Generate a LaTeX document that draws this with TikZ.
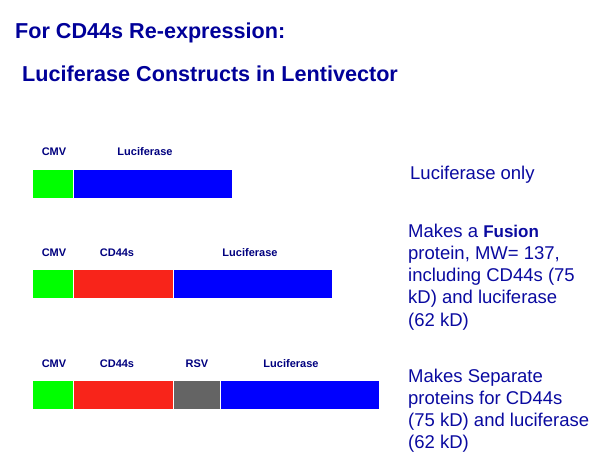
\documentclass[tikz,border=0pt]{standalone}
\usepackage{fontspec}
\setmainfont{Liberation Sans}
\definecolor{titleblue}{HTML}{000099}
\definecolor{textblue}{HTML}{0A0AA0}
\definecolor{lblblue}{HTML}{00007F}
\definecolor{cmvgreen}{HTML}{00FF00}
\definecolor{lucblue}{HTML}{0000FF}
\definecolor{cdred}{HTML}{F8241A}
\definecolor{rsvgray}{HTML}{646464}
\tikzset{
  seg/.style={inner sep=0pt, outer sep=0pt, anchor=north west, minimum height=28pt},
  title/.style={anchor=base west, inner sep=0pt, text=titleblue, font=\fontsize{21.6}{26}\selectfont\bfseries},
  lbl/.style={anchor=base, inner sep=0pt, text=lblblue, font=\fontsize{11}{13}\selectfont\bfseries},
  desc/.style={anchor=north west, inner sep=0pt, align=left, text=textblue, font=\fontsize{18.5}{22.2}\selectfont}
}
\begin{document}
\begin{tikzpicture}[x=1pt,y=-1pt]
\useasboundingbox[fill=white] (0,0) rectangle (600,468);
\node[title] (t1) at (15,39) {For CD44s Re-expression:};
\node[title] (t2) at (22,82) {Luciferase Constructs in Lentivector};
% row 1
\node[seg, fill=cmvgreen, minimum width=40pt] (g1) at (33,170) {};
\node[seg, fill=lucblue, minimum width=158pt] (b1) at (74,170) {};
\node[lbl] (l1a) at (54,156) {CMV};
\node[lbl] (l1b) at (145,156) {Luciferase};
% row 2
\node[seg, fill=cmvgreen, minimum width=40pt] (g2) at (33,270) {};
\node[seg, fill=cdred, minimum width=99pt] (r2) at (74,270) {};
\node[seg, fill=lucblue, minimum width=158pt] (b2) at (174,270) {};
\node[lbl] (l2a) at (54,256) {CMV};
\node[lbl] (l2b) at (117,256) {CD44s};
\node[lbl] (l2c) at (250,256) {Luciferase};
% row 3
\node[seg, fill=cmvgreen, minimum width=40pt] (g3) at (33,381) {};
\node[seg, fill=cdred, minimum width=99pt] (r3) at (74,381) {};
\node[seg, fill=rsvgray, minimum width=46pt] (y3) at (174,381) {};
\node[seg, fill=lucblue, minimum width=158pt] (b3) at (221,381) {};
\node[lbl] (l3a) at (54,367) {CMV};
\node[lbl] (l3b) at (117,367) {CD44s};
\node[lbl] (l3c) at (197,367) {RSV};
\node[lbl] (l3d) at (291,367) {Luciferase};
% descriptions
\node[desc] (d1) at (410,165.6) {Luciferase only};
\node[desc] (d2) at (408,223.6) {Makes a {\fontsize{17}{20}\selectfont\bfseries Fusion}\\protein, MW= 137,\\including CD44s (75\\kD) and luciferase\\(62 kD)};
\node[desc] (d3) at (408,368.6) {Makes Separate\\proteins for CD44s\\(75 kD) and luciferase\\(62 kD)};
\end{tikzpicture}
\end{document}
